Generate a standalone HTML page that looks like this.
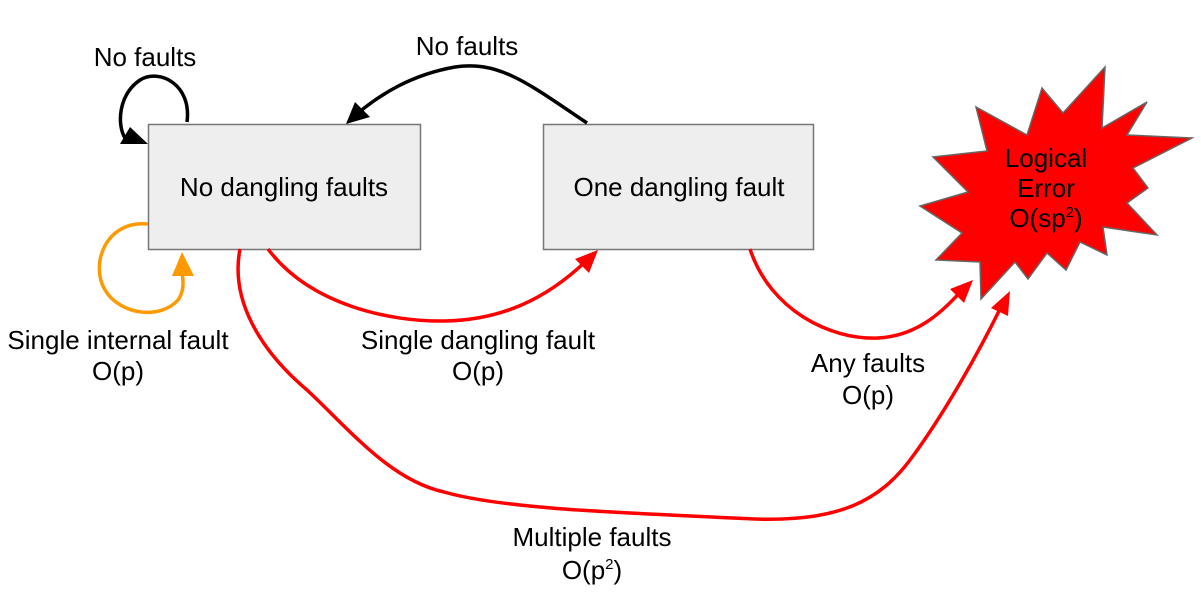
<!DOCTYPE html>
<html><head><meta charset="utf-8"><style>
html,body{margin:0;padding:0;background:#fff;}
svg{display:block;}
text{font-family:"Liberation Sans",Arial,sans-serif;font-size:26px;fill:#000;}
</style></head><body>
<svg width="1201" height="610" viewBox="0 0 1201 610" xmlns="http://www.w3.org/2000/svg">
<rect x="148.5" y="124.5" width="272" height="125" fill="#eeeeee" stroke="#777" stroke-width="1.5"/>
<rect x="543.5" y="124.5" width="270" height="125" fill="#eeeeee" stroke="#777" stroke-width="1.5"/>
<text x="284" y="196" text-anchor="middle">No dangling faults</text>
<text x="679" y="196" text-anchor="middle">One dangling fault</text>

<polygon fill="#ff0000" stroke="#666" stroke-width="1.5" points="1105,67 1063,113 1042,88 1027,135 976,107 987,151 933,157 968,192 920,206 962,233 936,260 980,262 981,299 1015,262 1028,279 1047,253 1066,270 1080,242 1107,255 1103,227 1157,235 1127,203 1148,188 1133,168 1192,138 1127,135 1147,102 1102,128"/>
<text x="1046" y="167" text-anchor="middle">Logical</text>
<text x="1046" y="197" text-anchor="middle">Error</text>
<text x="1046" y="227" text-anchor="middle">O(sp<tspan font-size="15" dy="-10">2</tspan><tspan dy="10">)</tspan></text>

<path d="M187,122 C192,85 160,68 140,80 C118,95 117,125 125,138" fill="none" stroke="#000" stroke-width="3.5"/>
<polygon points="148,144 120,144 130,127" fill="#000"/>
<text x="145" y="66" text-anchor="middle">No faults</text>

<path d="M587,123 C530,85 500,60 455,67 C410,75 380,95 358,113" fill="none" stroke="#000" stroke-width="3.5"/>
<polygon points="346,124 355,102 370,117" fill="#000"/>
<text x="467" y="55" text-anchor="middle">No faults</text>

<path d="M148,224 C105,220 90,265 105,290 C120,315 160,320 178,300 C185,290 183,280 182,270" fill="none" stroke="#ff9900" stroke-width="3.5"/>
<polygon points="182,252 172,276 194,276" fill="#ff9900"/>
<text x="118" y="349" text-anchor="middle">Single internal fault</text>
<text x="118" y="380" text-anchor="middle">O(p)</text>

<path d="M268,249 C310,305 390,322 445,321 C500,320 545,300 585,262" fill="none" stroke="#f00" stroke-width="3.5"/>
<polygon points="598,250 589,273 575,259" fill="#f00"/>
<text x="478" y="349" text-anchor="middle">Single dangling fault</text>
<text x="478" y="380" text-anchor="middle">O(p)</text>

<path d="M750,249 C770,310 830,340 878,338 C915,336 940,315 962,290" fill="none" stroke="#f00" stroke-width="3.5"/>
<polygon points="973,280 964,303 950,289" fill="#f00"/>
<text x="868" y="372" text-anchor="middle">Any faults</text>
<text x="868" y="404" text-anchor="middle">O(p)</text>

<path d="M240,249 C230,300 260,350 307,390 C350,430 390,480 444,492 C500,508 600,512 755,519 C840,522 880,500 910,460 C940,420 975,360 1002,305" fill="none" stroke="#f00" stroke-width="3.5"/>
<polygon points="1010,291 1008,316 991,308" fill="#f00"/>
<text x="592" y="546" text-anchor="middle">Multiple faults</text>
<text x="592" y="579" text-anchor="middle">O(p<tspan font-size="15" dy="-10">2</tspan><tspan dy="10">)</tspan></text>
</svg>
</body></html>
